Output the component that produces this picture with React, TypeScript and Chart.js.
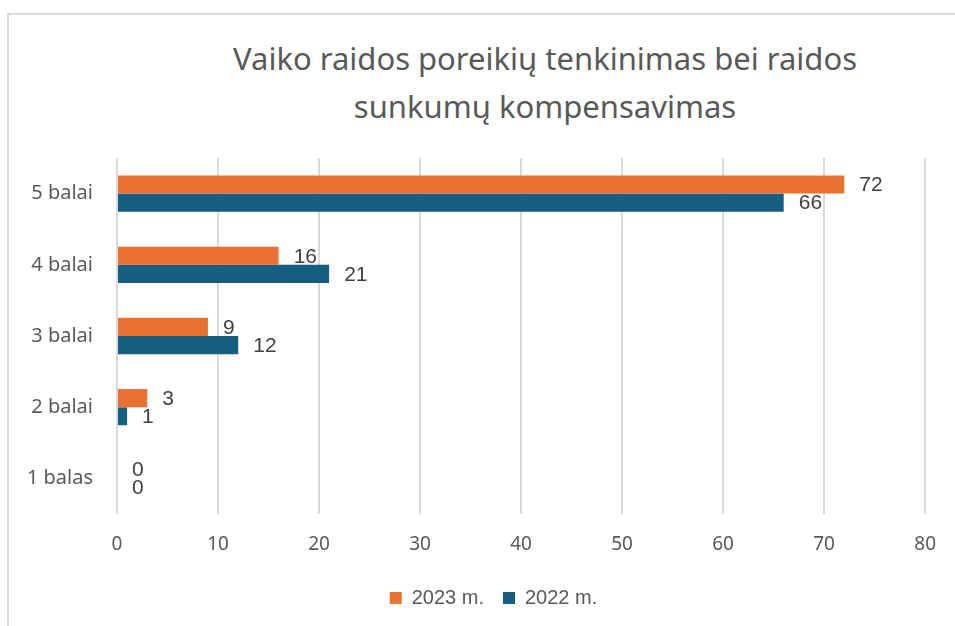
import React, { useEffect, useRef } from "react";
import { Chart, registerables } from "chart.js";

Chart.register(...registerables);

const categories = ["5 balai", "4 balai", "3 balai", "2 balai", "1 balas"];
const series2023 = [72, 16, 9, 3, 0];
const series2022 = [66, 21, 12, 1, 0];
const seriesNames = ["2023 m.", "2022 m."];
const xMin = 0;
const xMax = 80;
const xStep = 10;
const titleLines = ["Vaiko raidos poreikių tenkinimas bei raidos", "sunkumų kompensavimas"];

const ORANGE = "#E97132";
const BLUE = "#156082";
const TEXT = "#595959";
const GRID = "#D9D9D9";
const FONT = "'Noto Sans', sans-serif";
const ARIAL = "'Liberation Sans', Arial, sans-serif";

const valueLabels = {
  id: "valueLabels",
  afterDatasetsDraw(chart: any) {
    const ctx = chart.ctx;
    ctx.save();
    ctx.font = `21px ${ARIAL}`;
    ctx.fillStyle = "#404040";
    ctx.textAlign = "left";
    ctx.textBaseline = "middle";
    chart.data.datasets.forEach((ds: any, i: number) => {
      const meta = chart.getDatasetMeta(i);
      meta.data.forEach((el: any, j: number) => {
        ctx.fillText(String(ds.data[j]), el.x + 15, el.y + 1);
      });
    });
    ctx.restore();
  },
};

// shift the bottom legend so it is centred like the original
const legendShift = {
  id: "legendShift",
  afterLayout(chart: any) {
    if (chart.legend) {
      chart.legend.left += 29;
      chart.legend.right += 29;
    }
  },
};

export default function App() {
  const ref = useRef<HTMLCanvasElement>(null);

  useEffect(() => {
    if (!ref.current) return;
    const chart = new Chart(ref.current, {
      type: "bar",
      data: {
        labels: categories,
        datasets: [
          { label: seriesNames[0], data: series2023, backgroundColor: ORANGE, categoryPercentage: 0.51, barPercentage: 1 },
          { label: seriesNames[1], data: series2022, backgroundColor: BLUE, categoryPercentage: 0.51, barPercentage: 1 },
        ],
      },
      options: {
        indexAxis: "y",
        responsive: false,
        maintainAspectRatio: false,
        animation: false,
        devicePixelRatio: 1,
        layout: { padding: { left: 0, right: 26, top: 158, bottom: 8 } },
        plugins: {
          title: { display: false },
          tooltip: { enabled: false },
          legend: {
            position: "bottom",
            labels: {
              boxWidth: 12,
              boxHeight: 12,
              padding: 19,
              color: TEXT,
              font: { family: ARIAL, size: 20 },
            },
          },
        },
        scales: {
          x: {
            min: xMin,
            max: xMax,
            ticks: { stepSize: xStep, color: TEXT, font: { family: FONT, size: 19 }, padding: 19 },
            grid: { color: GRID, lineWidth: 2, drawTicks: false },
            border: { display: false },
            afterFit: (s: any) => {
              s.height = 55;
            },
          },
          y: {
            ticks: { color: TEXT, font: { family: FONT, size: 20 }, padding: 24 },
            grid: { display: false, drawTicks: false },
            border: { display: false },
            afterFit: (s: any) => {
              s.width = 117;
            },
          },
        },
      },
      plugins: [valueLabels, legendShift],
    } as any);
    return () => chart.destroy();
  }, []);

  return (
    <div style={{ position: "absolute", left: 0, top: 0, width: 955, height: 626, overflow: "hidden", background: "#fff" }}>
      <div
        style={{
          position: "absolute",
          left: 7,
          top: 13,
          width: 2000,
          height: 2000,
          borderTop: `2px solid ${GRID}`,
          borderLeft: `2px solid ${GRID}`,
        }}
      />
      <div
        style={{
          position: "absolute",
          left: 545,
          top: 34,
          transform: "translateX(-50%)",
          whiteSpace: "nowrap",
          textAlign: "center",
          fontFamily: FONT,
          fontSize: 31,
          lineHeight: "48px",
          color: TEXT,
        }}
      >
        {titleLines.map((t, i) => (
          <div key={i}>{t}</div>
        ))}
      </div>
      <canvas ref={ref} width={955} height={626} style={{ position: "absolute", left: 0, top: 0 }} />
    </div>
  );
}
